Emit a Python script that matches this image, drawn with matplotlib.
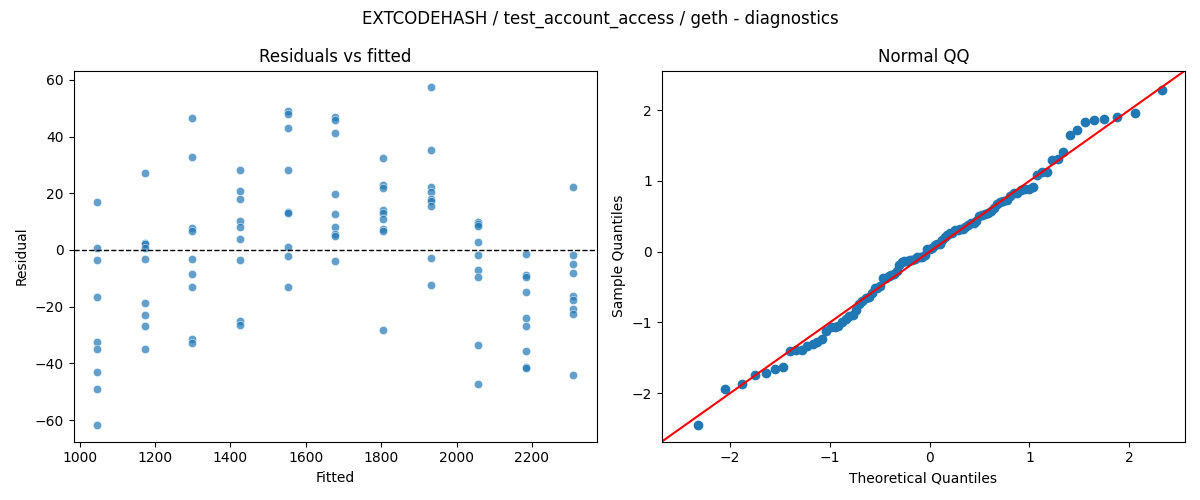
import numpy as np
import matplotlib
matplotlib.use("Agg")
import matplotlib.pyplot as plt
import seaborn as sns
from statistics import NormalDist

# fitted value of each group (9 runs per group)
fitted_levels = [1047, 1173, 1299, 1426, 1552, 1678, 1804, 1931, 2057, 2183, 2309]

# residuals, one list per fitted level
res_1047 = [16.8, 0.6, -3.6, -16.7, -32.4, -35.0, -43.1, -48.9, -61.7]
res_1173 = [27.0, 2.6, 2.2, 0.6, -3.3, -18.8, -23.0, -26.9, -35.0]
res_1299 = [46.7, 32.7, 7.6, 6.6, -3.3, -8.5, -13.1, -31.3, -32.9]
res_1426 = [28.1, 20.7, 17.9, 10.1, 8.0, 3.8, -3.6, -25.0, -26.4]
res_1552 = [48.9, 47.8, 42.9, 28.1, 13.5, 13.0, 1.1, -2.2, -13.1]
res_1678 = [46.9, 46.0, 41.1, 19.6, 12.6, 8.0, 5.6, 4.9, -4.0]
res_1804 = [32.4, 22.9, 21.9, 14.2, 13.1, 10.8, 7.4, 6.6, -28.3]
res_1931 = [57.3, 35.1, 22.1, 20.5, 18.0, 17.3, 15.4, -2.9, -12.4]
res_2057 = [10.0, 9.3, 8.6, 2.7, -1.9, -7.0, -9.5, -33.6, -47.2]
res_2183 = [-1.5, -8.8, -9.5, -14.9, -24.1, -26.9, -35.6, -41.2, -41.7]
res_2309 = [22.1, -1.9, -5.0, -8.2, -16.4, -17.6, -20.8, -22.5, -44.0]

groups = [res_1047, res_1173, res_1299, res_1426, res_1552, res_1678,
          res_1804, res_1931, res_2057, res_2183, res_2309]

fitted = []
resid = []
for lvl, g in zip(fitted_levels, groups):
    for r in g:
        fitted.append(lvl)
        resid.append(r)
fitted = np.array(fitted, dtype=float)
resid = np.array(resid, dtype=float)

fig, axes = plt.subplots(1, 2, figsize=(12, 5))

# residuals vs fitted
ax = axes[0]
sns.scatterplot(x=fitted, y=resid, ax=ax, alpha=0.7)
ax.axhline(0, color="black", linestyle="--", linewidth=1)
ax.set_title("Residuals vs fitted")
ax.set_xlabel("Fitted")
ax.set_ylabel("Residual")

# normal QQ of standardized residuals
ax = axes[1]
z = np.sort((resid - resid.mean()) / resid.std(ddof=1))
n = len(z)
nd = NormalDist()
theo = np.array([nd.inv_cdf(i / (n + 1)) for i in range(1, n + 1)])
ax.plot(theo, z, "o", color="C0", markeredgecolor="C0")
xl = ax.get_xlim()
yl = ax.get_ylim()
lims = [min(xl[0], yl[0]), max(xl[1], yl[1])]
ax.plot(lims, lims, color="r")
ax.set_xlim(lims)
ax.set_ylim(lims)
ax.set_title("Normal QQ")
ax.set_xlabel("Theoretical Quantiles")
ax.set_ylabel("Sample Quantiles")

fig.suptitle("EXTCODEHASH / test_account_access / geth - diagnostics")
fig.tight_layout()
fig.savefig("out.png", dpi=100)
